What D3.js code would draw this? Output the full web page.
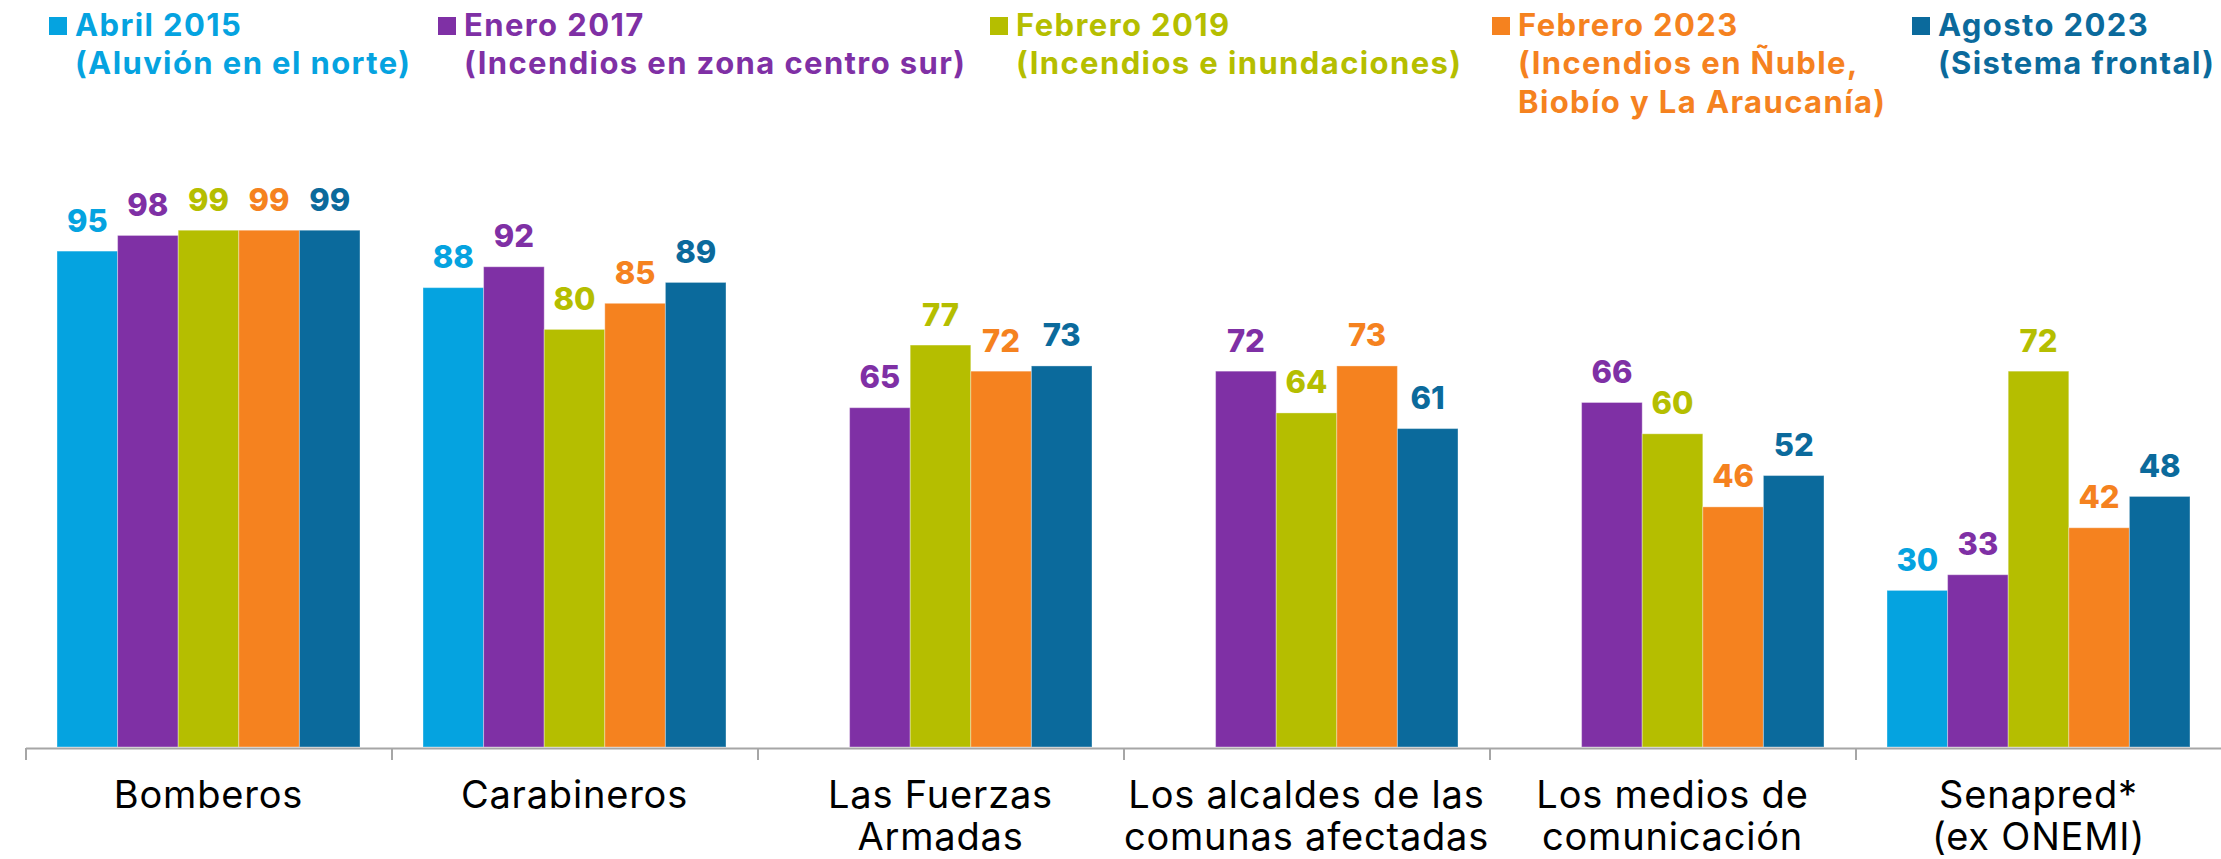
<!DOCTYPE html>
<html>
<head>
<meta charset="utf-8">
<script src="https://cdn.jsdelivr.net/npm/d3@7"></script>
<style>
  body { margin: 0; background: #fff; }
  svg { display: block; }
  .legend-text { font-family: Inter, 'Open Sans', sans-serif; font-weight: 700; font-size: 31px; letter-spacing: 1.4px; }
  .value { font-family: Inter, 'Open Sans', sans-serif; font-weight: 800; font-size: 31px; text-anchor: middle; }
  .cat { font-family: Inter, 'Open Sans', sans-serif; font-weight: 400; font-size: 38px; letter-spacing: 0.8px; text-anchor: middle; fill: #000; }
</style>
</head>
<body>
<div id="viz"></div>
<script>
const categories = ['Bomberos', 'Carabineros', 'Las Fuerzas Armadas', 'Los alcaldes de las comunas afectadas', 'Los medios de comunicación', 'Senapred* (ex ONEMI)'];
const categoryLines = [
  ['Bomberos'],
  ['Carabineros'],
  ['Las Fuerzas', 'Armadas'],
  ['Los alcaldes de las', 'comunas afectadas'],
  ['Los medios de', 'comunicación'],
  ['Senapred*', '(ex ONEMI)']
];

const seriesNames = ['Abril 2015', 'Enero 2017', 'Febrero 2019', 'Febrero 2023', 'Agosto 2023'];
const seriesNotes = [
  ['(Aluvión en el norte)'],
  ['(Incendios en zona centro sur)'],
  ['(Incendios e inundaciones)'],
  ['(Incendios en Ñuble,', 'Biobío y La Araucanía)'],
  ['(Sistema frontal)']
];
const colors = ['#05A3E0', '#7F30A5', '#B5BE00', '#F5821F', '#0B6A9C'];

const abril2015 = [95, 88, null, null, null, 30];
const enero2017 = [98, 92, 65, 72, 66, 33];
const febrero2019 = [99, 80, 77, 64, 60, 72];
const febrero2023 = [99, 85, 72, 73, 46, 42];
const agosto2023 = [99, 89, 73, 61, 52, 48];
const seriesValues = [abril2015, enero2017, febrero2019, febrero2023, agosto2023];

const width = 2221;
const height = 859;
const baseline = 747;

const svg = d3.select('#viz').append('svg')
  .attr('width', width)
  .attr('height', height);

const x = d3.scaleBand()
  .domain(categories)
  .range([25.5, 2221.5]);

const xInner = d3.scaleBand()
  .domain(seriesNames)
  .range([0, x.bandwidth()])
  .paddingOuter(0.52);

const y = d3.scaleLinear()
  .domain([0, 100])
  .range([baseline, baseline - 522]);

// flatten into bar records
const bars = [];
categories.forEach((c, ci) => {
  seriesNames.forEach((s, si) => {
    const v = seriesValues[si][ci];
    if (v !== null) bars.push({ cat: c, series: s, si, value: v });
  });
});

const plot = svg.append('g');

plot.selectAll('rect.bar').data(bars)
  .enter().append('rect')
    .attr('class', 'bar')
    .attr('x', (d) => x(d.cat) + xInner(d.series))
    .attr('width', xInner.bandwidth())
    .attr('y', (d) => y(d.value))
    .attr('height', (d) => y(0) - y(d.value))
    .attr('fill', (d) => colors[d.si])
    .attr('stroke', 'rgba(255,255,255,0.35)')
    .attr('stroke-width', 1);

plot.selectAll('text.value').data(bars)
  .enter().append('text')
    .attr('class', 'value')
    .attr('x', (d) => x(d.cat) + xInner(d.series) + xInner.bandwidth() / 2)
    .attr('y', (d) => y(d.value) - 19.5)
    .attr('fill', (d) => colors[d.si])
    .text((d) => d.value);

// axis with ticks on the band boundaries
const edges = d3.scaleLinear()
  .domain([0, categories.length])
  .range(x.range());

const xAxis = svg.append('g')
  .attr('transform', `translate(0, ${baseline + 1})`)
  .call(d3.axisBottom(edges)
    .tickValues(d3.range(categories.length + 1))
    .tickSize(12)
    .tickSizeOuter(0)
    .tickFormat(''));

xAxis.selectAll('path, line')
  .attr('stroke', '#A6A6A6')
  .attr('stroke-width', 2);

const catLabels = svg.append('g').selectAll('text').data(categories)
  .enter().append('text')
    .attr('class', 'cat')
    .attr('x', (d) => x(d) + x.bandwidth() / 2)
    .attr('y', 808);

catLabels.selectAll('tspan')
  .data((d, i) => categoryLines[i])
  .enter().append('tspan')
    .attr('x', function () { return d3.select(this.parentNode).attr('x'); })
    .attr('dy', (d, i) => i === 0 ? 0 : 42)
    .text((d) => d);

// legend
const legendX = [75, 464, 1016, 1518, 1938];
const legend = svg.append('g').attr('id', 'legend');

const items = legend.selectAll('g').data(seriesNames)
  .enter().append('g')
    .attr('transform', (d, i) => `translate(${legendX[i]}, 0)`);

items.append('rect')
  .attr('x', -26)
  .attr('y', 17)
  .attr('width', 18)
  .attr('height', 18)
  .attr('fill', (d, i) => colors[i]);

items.append('text')
  .attr('class', 'legend-text')
  .attr('y', 35.5)
  .attr('fill', (d, i) => colors[i])
  .selectAll('tspan')
  .data((d, i) => [d].concat(seriesNotes[i]))
  .enter().append('tspan')
    .attr('x', 0)
    .attr('dy', (d, i) => i === 0 ? 0 : 38.5)
    .text((d) => d);
</script>
</body>
</html>
